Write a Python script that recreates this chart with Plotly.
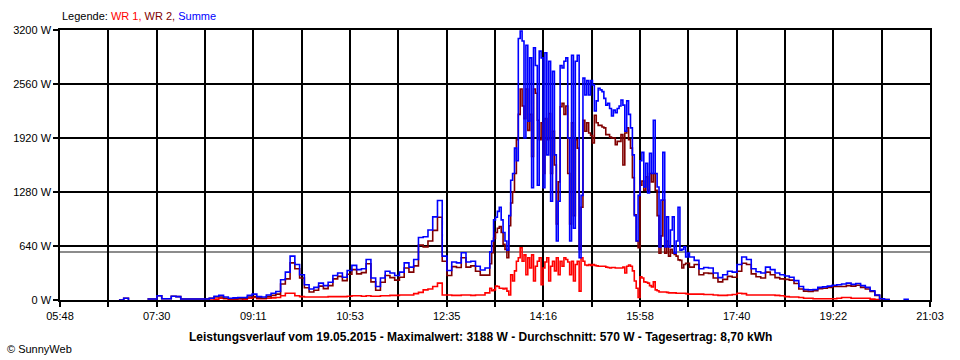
import plotly.graph_objects as go
from datetime import datetime, timedelta

# ---------------- data ----------------
day = "2015-05-19"
# sampling grid segments: (start, end, step in minutes)
time_segments = [("06:50", "13:20", 5), ("13:22", "16:50", 2), ("16:55", "20:50", 5)]

x_labels = ["05:48", "07:30", "09:11", "10:53", "12:35", "14:16", "15:58", "17:40", "19:22", "21:03"]
y_ticks = [0, 640, 1280, 1920, 2560, 3200]
y_labels = ["0 W", "640 W", "1280 W", "1920 W", "2560 W", "3200 W"]
avg_value = 570  # Durchschnitt

N = None
summe_a = [0, 20, 0, N, N, N, 12, 12, 50, 15,
           15, 45, 40, 12, 12, 12, 12, 12, 12, 20,
           45, 55, 35, 20, 25, 30, 30, 55, 70, 40,
           35, 60, 80, 100, 240, 330, 520, 420, 300, 180,
           130, 150, 200, 170, 210, 290, 320, 270, 350, 410,
           360, 370, 480, 260, 160, 260, 340, 320, 290, 330,
           440, 390, 480, 740, 750, 830, 985, 1180, 520, 350,
           450, 440, 560, 450, 460, 400, 355, 380, 570]
summe_b = [700, 950, 980, 1050, 1100, 950, 800, 700, 590, 1000,
           1420, 1500, 1800, 1650, 3100, 3188, 3070, 1920, 3020, 2120,
           2870, 1330, 2990, 2780, 1360, 2950, 2870, 1330, 2930, 1720,
           2830, 1170, 2710, 1720, 700, 1170, 2780, 2750, 2830, 2870,
           1920, 700, 2900, 850, 2830, 2900, 500, 1240, 2630, 2430,
           2600, 2430, 2600, 2550, 2240, 2360, 2510, 2490, 2470, 2390,
           2310, 2330, 2270, 2180, 2250, 2220, 2270, 2300, 2370, 2310,
           2000, 2360, 2200, 2040, 1720, 1000, 700, 1240, 1650, 1750,
           1340, 1620, 1270, 1740, 1500, 2130, 1500, 1340, 630, 1185,
           1750, 630, 985, 630, 830, 985, 555, 700, 1100, 590,
           600, 630, 510, 555, 510]
summe_c = [470, 370, 385, 380, 320, 265, 300, 340, 330, 420,
           510, 480, 370, 335, 320, 390, 360, 320, 300, 285,
           270, 230, 160, 125, 120, 125, 150, 155, 165, 175,
           180, 190, 200, 185, 195, 170, 150, 110, 60, 15,
           5, 0, N, N, 8, 0, N, N]

wr2_a = [0, 20, 0, N, N, N, 12, 12, 50, 15,
         15, 45, 40, 12, 12, 12, 12, 12, 12, 20,
         35, 35, 20, 15, 15, 15, 20, 35, 40, 25,
         20, 40, 55, 70, 190, 250, 440, 370, 260, 145,
         95, 115, 165, 135, 170, 250, 280, 230, 305, 360,
         310, 325, 430, 215, 115, 210, 290, 265, 235, 270,
         380, 330, 405, 650, 630, 700, 825, 980, 460, 290,
         395, 385, 500, 390, 405, 340, 295, 295, 430]
wr2_b = [560, 730, 800, 850, 870, 800, 660, 600, 500, 880,
         1150, 1280, 1500, 1900, 2200, 2500, 2300, 2150, 2500, 2010,
         2200, 1700, 2500, 2450, 2130, 1900, 2100, 1500, 2150, 1900,
         2210, 1500, 2000, 1600, 900, 1400, 2290, 2330, 2200, 2300,
         1500, 900, 2100, 1000, 1900, 1800, 600, 1100, 2130, 2000,
         2100, 1980, 1950, 1860, 2190, 2100, 2070, 2070, 2050, 2040,
         1960, 1960, 1930, 1920, 1920, 1840, 1880, 1880, 1960, 1600,
         1980, 2040, 1900, 1800, 1450, 1010, 700, 620, 1360, 1410,
         1300, 1460, 1300, 1500, 1400, 1500, 1300, 1000, 555, 760,
         1185, 555, 700, 520, 600, 555, 540, 520, 475, 470,
         380, 420, 435, 435, 390]
wr2_c = [420, 300, 320, 315, 260, 215, 245, 280, 270, 340,
         435, 420, 310, 275, 260, 330, 300, 265, 250, 245,
         235, 195, 130, 105, 100, 110, 135, 140, 150, 160,
         160, 160, 170, 165, 175, 150, 130, 100, 55, 15,
         5, 0, N, N, N, N, N, N]

wr1_a = [N, N, N, N, N, N, N, N, N, N,
         N, N, N, N, N, N, N, N, N, 0,
         10, 20, 15, 5, 10, 15, 10, 20, 30, 15,
         15, 20, 25, 30, 50, 80, 80, 50, 40, 35,
         35, 35, 35, 35, 40, 40, 40, 40, 45, 50,
         50, 45, 50, 45, 45, 50, 50, 55, 55, 60,
         60, 60, 75, 90, 120, 130, 160, 200, 60, 60,
         55, 55, 60, 60, 55, 60, 60, 85, 140]
wr1_b = [110, 120, 165, 160, 140, 140, 130, 140, 105, 60,
         300, 225, 345, 460, 500, 620, 460, 535, 300, 500,
         380, 535, 225, 400, 460, 500, 180, 380, 450, 500,
         225, 400, 460, 345, 500, 300, 460, 400, 500, 480,
         450, 300, 460, 225, 420, 460, 105, 500, 460, 415,
         410, 420, 410, 420, 410, 405, 400, 400, 400, 400,
         390, 385, 380, 385, 385, 380, 380, 380, 380, 390,
         320, 400, 415, 400, 345, 225, 140, 30, 275, 260,
         215, 210, 200, 170, 155, 215, 120, 110, 95, 95,
         95, 95, 90, 85, 85, 85, 85, 80, 80, 80,
         80, 80, 75, 70, 70]
wr1_c = [70, 70, 65, 65, 60, 55, 55, 60, 65, 80,
         75, 60, 60, 60, 60, 60, 60, 55, 50, 40,
         35, 35, 30, 20, 20, 15, 15, 15, 15, 15,
         20, 30, 30, 20, 20, 20, 20, 10, 5, 0,
         N, N, N, N, N, N, N, N]

wr1 = wr1_a + wr1_b + wr1_c
wr2 = wr2_a + wr2_b + wr2_c
summe = summe_a + summe_b + summe_c

# ---------------- time grid ----------------
def seg_times(start, end, step):
    t0 = datetime.strptime(day + " " + start, "%Y-%m-%d %H:%M")
    t1 = datetime.strptime(day + " " + end, "%Y-%m-%d %H:%M")
    out = []
    t = t0
    while t <= t1:
        out.append(t)
        t += timedelta(minutes=step)
    return out

times = []
for s, e, st in time_segments:
    times += seg_times(s, e, st)
assert len(times) == len(wr1) == len(wr2) == len(summe), (len(times), len(wr1), len(wr2), len(summe))

x_start = datetime.strptime(day + " " + x_labels[0], "%Y-%m-%d %H:%M")
x_end = datetime.strptime(day + " " + x_labels[-1], "%Y-%m-%d %H:%M")
n_div = (len(x_labels) - 1) * 2
step = (x_end - x_start) / n_div
tickvals = [x_start + i * step for i in range(n_div + 1)]
ticktext = []
for i in range(n_div + 1):
    ticktext.append(x_labels[i // 2] if i % 2 == 0 else "")

# ---------------- figure ----------------
fig = go.Figure()
series = [("WR 1", wr1, "#FF0000"), ("WR 2", wr2, "#800000"), ("Summe", summe, "#0000FF")]
for name, vals, col in series:
    fig.add_trace(go.Scatter(x=times, y=vals, name=name, mode="lines",
                             line=dict(color=col, width=1.6, shape="hv"),
                             connectgaps=False))

fig.add_shape(type="line", xref="paper", x0=0, x1=1, yref="y", y0=avg_value, y1=avg_value,
              line=dict(color="#8C8C8C", width=2), layer="below")

font_family = "Liberation Sans, Arial, sans-serif"
fig.update_layout(
    width=960, height=360,
    margin=dict(l=60, r=30, t=30, b=60),
    paper_bgcolor="white", plot_bgcolor="white",
    showlegend=False,
    font=dict(family=font_family, size=11, color="black"),
    xaxis=dict(type="date", range=[x_start, x_end], tickmode="array",
               tickvals=tickvals, ticktext=ticktext,
               ticks="outside", ticklen=5, tickwidth=1.5, tickcolor="black",
               showgrid=True, gridcolor="black", gridwidth=1.5,
               showline=True, mirror=True, linecolor="black", linewidth=1.5,
               zeroline=False, tickfont=dict(size=11)),
    yaxis=dict(range=[0, 3200], tickmode="array", tickvals=y_ticks, ticktext=y_labels,
               ticks="outside", ticklen=5, tickwidth=1.5, tickcolor="black",
               showgrid=True, gridcolor="black", gridwidth=1.5,
               showline=True, mirror=True, linecolor="black", linewidth=1.5,
               zeroline=False, tickfont=dict(size=11)),
)

legend_text = ("Legende: <span style='color:#FF0000'>WR 1,</span> "
               "<span style='color:#800000'>WR 2,</span> "
               "<span style='color:#0000FF'>Summe</span>")
fig.add_annotation(text=legend_text, xref="paper", yref="paper", x=0, y=1 + 14 / 270,
                   xanchor="left", yanchor="middle", showarrow=False,
                   font=dict(size=11, color="black"))
fig.add_annotation(text="<b>Leistungsverlauf vom 19.05.2015 - Maximalwert: 3188 W - "
                        "Durchschnitt: 570 W - Tagesertrag: 8,70 kWh</b>",
                   xref="paper", yref="paper", x=(480 - 60) / 870, y=-37 / 270,
                   xanchor="center", yanchor="middle", showarrow=False,
                   font=dict(size=12, color="black"))
fig.add_annotation(text="© SunnyWeb", xref="paper", yref="paper", x=(5 - 60) / 870, y=-49 / 270,
                   xanchor="left", yanchor="middle", showarrow=False,
                   font=dict(size=11, color="black"))

fig.write_html("out.html", config={"displayModeBar": False},
               post_script="document.body.style.margin='0';")
